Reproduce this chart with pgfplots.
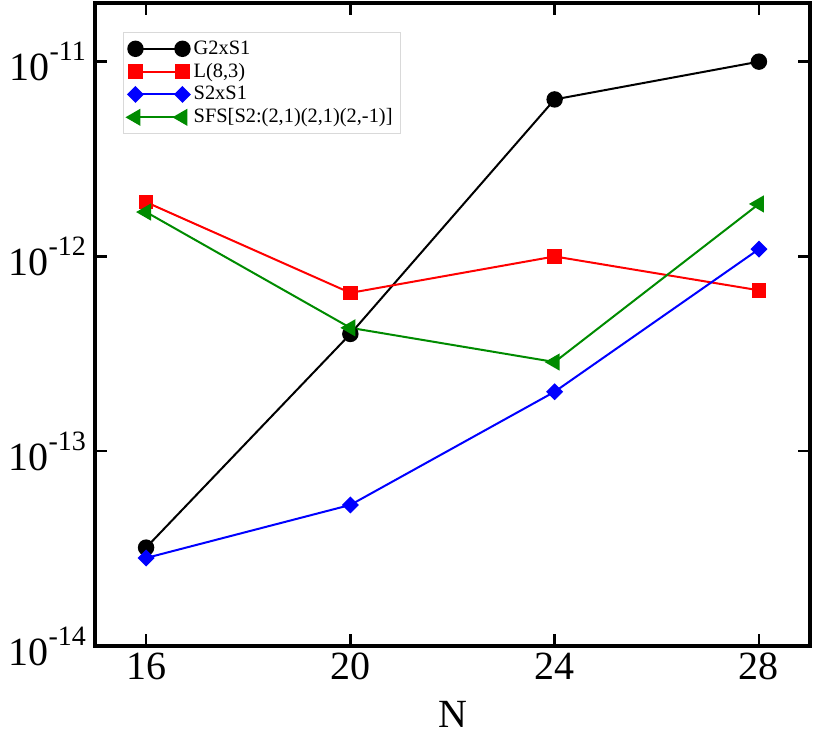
\documentclass[border=0pt]{standalone}
\usepackage{fontspec}
\setmainfont{Liberation Serif}
\usepackage{pgfplots}
\pgfplotsset{compat=1.18}
\definecolor{ggreen}{RGB}{0,139,0}
\newcommand{\tenp}[1]{10\raisebox{10pt}{\fontsize{14}{14}\selectfont #1}}
\begin{document}
\begin{tikzpicture}
\begin{axis}[name=ax,
  scale only axis, width=357.5pt, height=321.5pt,
  xmin=15, xmax=29, ymode=log, ymin=1e-14, ymax=2e-11,
  xtick={16,20,24,28}, xticklabels={16,20,24,28},
  ytick={1e-14,1e-13,1e-12,1e-11},
  yticklabels={\tenp{-14},\tenp{-13},\tenp{-12},\tenp{-11}},
  yminorticks=false, xminorticks=false,
  tick align=inside, major tick length=6pt,
  every tick/.style={line width=1.2pt, black},
  axis line style={line width=2pt},
  tick label style={font=\fontsize{20}{24}\selectfont},
  yticklabel style={xshift=-1pt},
  xlabel={N}, xlabel style={font=\fontsize{20}{24}\selectfont, yshift=-3.6pt},
  legend style={at={(0.039,0.955)}, anchor=north west, draw=black!15, line width=0.6pt,
    font=\fontsize{10.2}{11.75}\selectfont, inner sep=2pt, row sep=-1pt,
    cells={anchor=west}},
  legend image code/.code={\draw[mark repeat=1,mark phase=1,#1] plot coordinates {(0pt,0pt) (23.5pt,0pt)};},
  every axis plot/.append style={line width=1pt},
]
\addplot[black, mark=*, mark size=3.6pt] coordinates {(16,3.2e-14) (20,4.0e-13) (24,6.4e-12) (28,1.0e-11)};
\addlegendentry{G2xS1}
\addplot[red, mark=square*, mark size=3.1pt] coordinates {(16,1.9e-12) (20,6.5e-13) (24,1.0e-12) (28,6.7e-13)};
\addlegendentry{L(8,3)}
\addplot[blue, mark=square*, mark size=2.5pt, every mark/.append style={rotate=45}] coordinates {(16,2.83e-14) (20,5.3e-14) (24,2.02e-13) (28,1.09e-12)};
\addlegendentry{S2xS1}
\addplot[ggreen, mark=triangle*, mark size=4pt, every mark/.append style={rotate=90}] coordinates {(16,1.69e-12) (20,4.3e-13) (24,2.87e-13) (28,1.86e-12)};
\addlegendentry{SFS[S2:(2,1)(2,1)(2,-1)]}
\end{axis}
\pgfresetboundingbox
\path ([shift={(-47.5pt,-43.5pt)}]ax.south west) rectangle ([shift={(2pt,1.5pt)}]ax.north east);
\end{tikzpicture}
\end{document}
